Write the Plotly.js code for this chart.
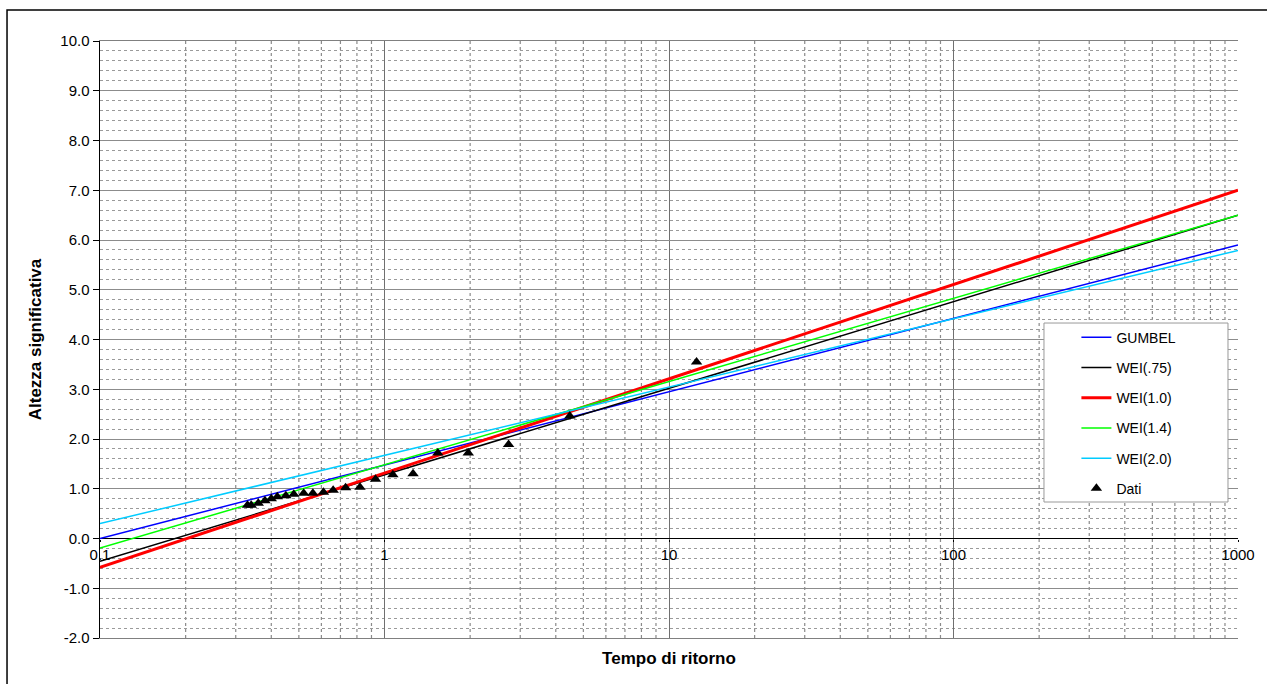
<!DOCTYPE html>
<html>
<head>
<meta charset="utf-8">
<script src="https://cdn.plot.ly/plotly-3.0.1.min.js"></script>
<style>html,body{margin:0;padding:0;background:#fff;}#chart{width:1267px;height:684px;}</style>
</head>
<body>
<div id="chart"></div>
<script>
// Return-period endpoints of the fitted lines
var lineT = [0.1, 1000];
var gumbel = [0.0, 5.9];
var wei075 = [-0.46, 6.5];
var wei10 = [-0.58, 7.0];
var wei14 = [-0.19, 6.5];
var wei20 = [0.3, 5.79];

// Observed data (return period, significant height)
var datiT = [0.33, 0.34, 0.36, 0.38, 0.40, 0.42, 0.45, 0.48, 0.52, 0.56, 0.61, 0.66, 0.73, 0.82, 0.93, 1.07, 1.26, 1.54, 1.97, 2.73, 4.48, 12.5];
var datiH = [0.67, 0.67, 0.71, 0.76, 0.80, 0.84, 0.86, 0.89, 0.91, 0.91, 0.93, 0.97, 1.02, 1.03, 1.19, 1.28, 1.30, 1.72, 1.72, 1.89, 2.46, 3.55];

var xTickVals = [0.1, 1, 10, 100, 1000];
var xTickText = ['0.1', '1', '10', '100', '1000'];
var yTickVals = [-2, -1, 0, 1, 2, 3, 4, 5, 6, 7, 8, 9, 10];
var yTickText = ['-2.0', '-1.0', '0.0', '1.0', '2.0', '3.0', '4.0', '5.0', '6.0', '7.0', '8.0', '9.0', '10.0'];

var names = ['GUMBEL', 'WEI(.75)', 'WEI(1.0)', 'WEI(1.4)', 'WEI(2.0)'];
var series = [gumbel, wei075, wei10, wei14, wei20];
var colors = ['#0000FF', '#000000', '#FF0000', '#00FF00', '#00CCFF'];
var widths = [1.5, 1.5, 3, 1.5, 1.5];

var traces = [];
for (var i = 0; i < series.length; i++) {
  traces.push({
    x: lineT, y: series[i], type: 'scatter', mode: 'lines', name: names[i],
    legendgroup: 'g' + i,
    line: {color: colors[i], width: widths[i]}
  });
}
traces.push({
  x: datiT, y: datiH, type: 'scatter', mode: 'markers', name: 'Dati',
  legendgroup: 'g9',
  marker: {symbol: 'triangle-up', size: 10, color: '#000000'}
});
traces.push({
  x: [], y: [], type: 'scatter', mode: 'lines', showlegend: false, hoverinfo: 'skip', xaxis: 'x2'
});

var F = 'Liberation Sans, Arial, sans-serif';

// minor log grid (2..9 in each decade) as vertical guide lines on the x axis
var shapes = [
  {type: 'rect', xref: 'paper', yref: 'paper', x0: -0.0817, x1: 1.05, y0: -0.2, y1: 1.052,
   line: {color: '#000', width: 1.5}, fillcolor: 'rgba(0,0,0,0)', layer: 'below'}
];
for (var d = 0; d < 4; d++) {
  for (var k = 2; k <= 9; k++) {
    shapes.push({type: 'line', xref: 'x', yref: 'paper', x0: k * xTickVals[d], x1: k * xTickVals[d], y0: 0, y1: 1,
      line: {color: '#8a8a8a', width: 1.2, dash: 'dot'}, layer: 'below'});
  }
}
shapes.push({type: 'rect', xref: 'paper', yref: 'paper', x0: 0.8295, x1: 0.9912, y0: 0.2278, y1: 0.5276,
  line: {color: '#999999', width: 1}, fillcolor: '#ffffff', layer: 'above'});

var layout = {
  width: 1267, height: 684,
  margin: {l: 100, r: 29, t: 41, b: 46},
  paper_bgcolor: '#ffffff', plot_bgcolor: 'rgba(255,255,255,0)',
  font: {family: F, color: '#000000', size: 15},
  showlegend: true,
  legend: {
    x: 0.858, y: 0.5297, xanchor: 'left', yanchor: 'top',
    bgcolor: 'rgba(0,0,0,0)', borderwidth: 0,
    font: {family: F, size: 14, color: '#000'},
    tracegroupgap: 9, traceorder: 'grouped'
  },
  xaxis: {
    type: 'log', range: [-1, 3],
    tickmode: 'array', tickvals: xTickVals, ticktext: xTickText,
    ticks: 'outside', ticklen: 2, tickcolor: '#000',
    anchor: 'free', position: 2 / 12,
    showgrid: true, gridcolor: '#707070', gridwidth: 1,
    showline: false, zeroline: false,
    tickfont: {family: F, size: 15, color: '#000'}
  },
  xaxis2: {
    type: 'log', overlaying: 'x', matches: 'x', anchor: 'y', side: 'bottom',
    range: [-1, 3],
    tickmode: 'array', tickvals: xTickVals,
    showticklabels: false, ticks: '', showgrid: false,
    showline: true, linecolor: '#808080', linewidth: 1, mirror: true,
    zeroline: false,
    title: {text: 'Tempo di ritorno', font: {family: F, size: 17, weight: 'bold'}, standoff: 14}
  },
  yaxis: {
    range: [-2, 10], tickmode: 'array', tickvals: yTickVals, ticktext: yTickText,
    ticks: 'outside', ticklen: 6, tickcolor: '#000',
    showgrid: true, gridcolor: '#8c8c8c', gridwidth: 1,
    minor: {dtick: 0.2, tick0: 0, showgrid: true, gridcolor: '#9a9a9a', griddash: 'dot', ticks: ''},
    showline: true, linecolor: '#000', linewidth: 1.5,
    zeroline: true, zerolinecolor: '#000', zerolinewidth: 1.5,
    tickfont: {family: F, size: 15, color: '#000'},
    title: {text: 'Altezza significativa', font: {family: F, size: 17, weight: 'bold'}, standoff: 14}
  },
  shapes: shapes
};

Plotly.newPlot('chart', traces, layout, {displayModeBar: false, staticPlot: true});
</script>
</body>
</html>
